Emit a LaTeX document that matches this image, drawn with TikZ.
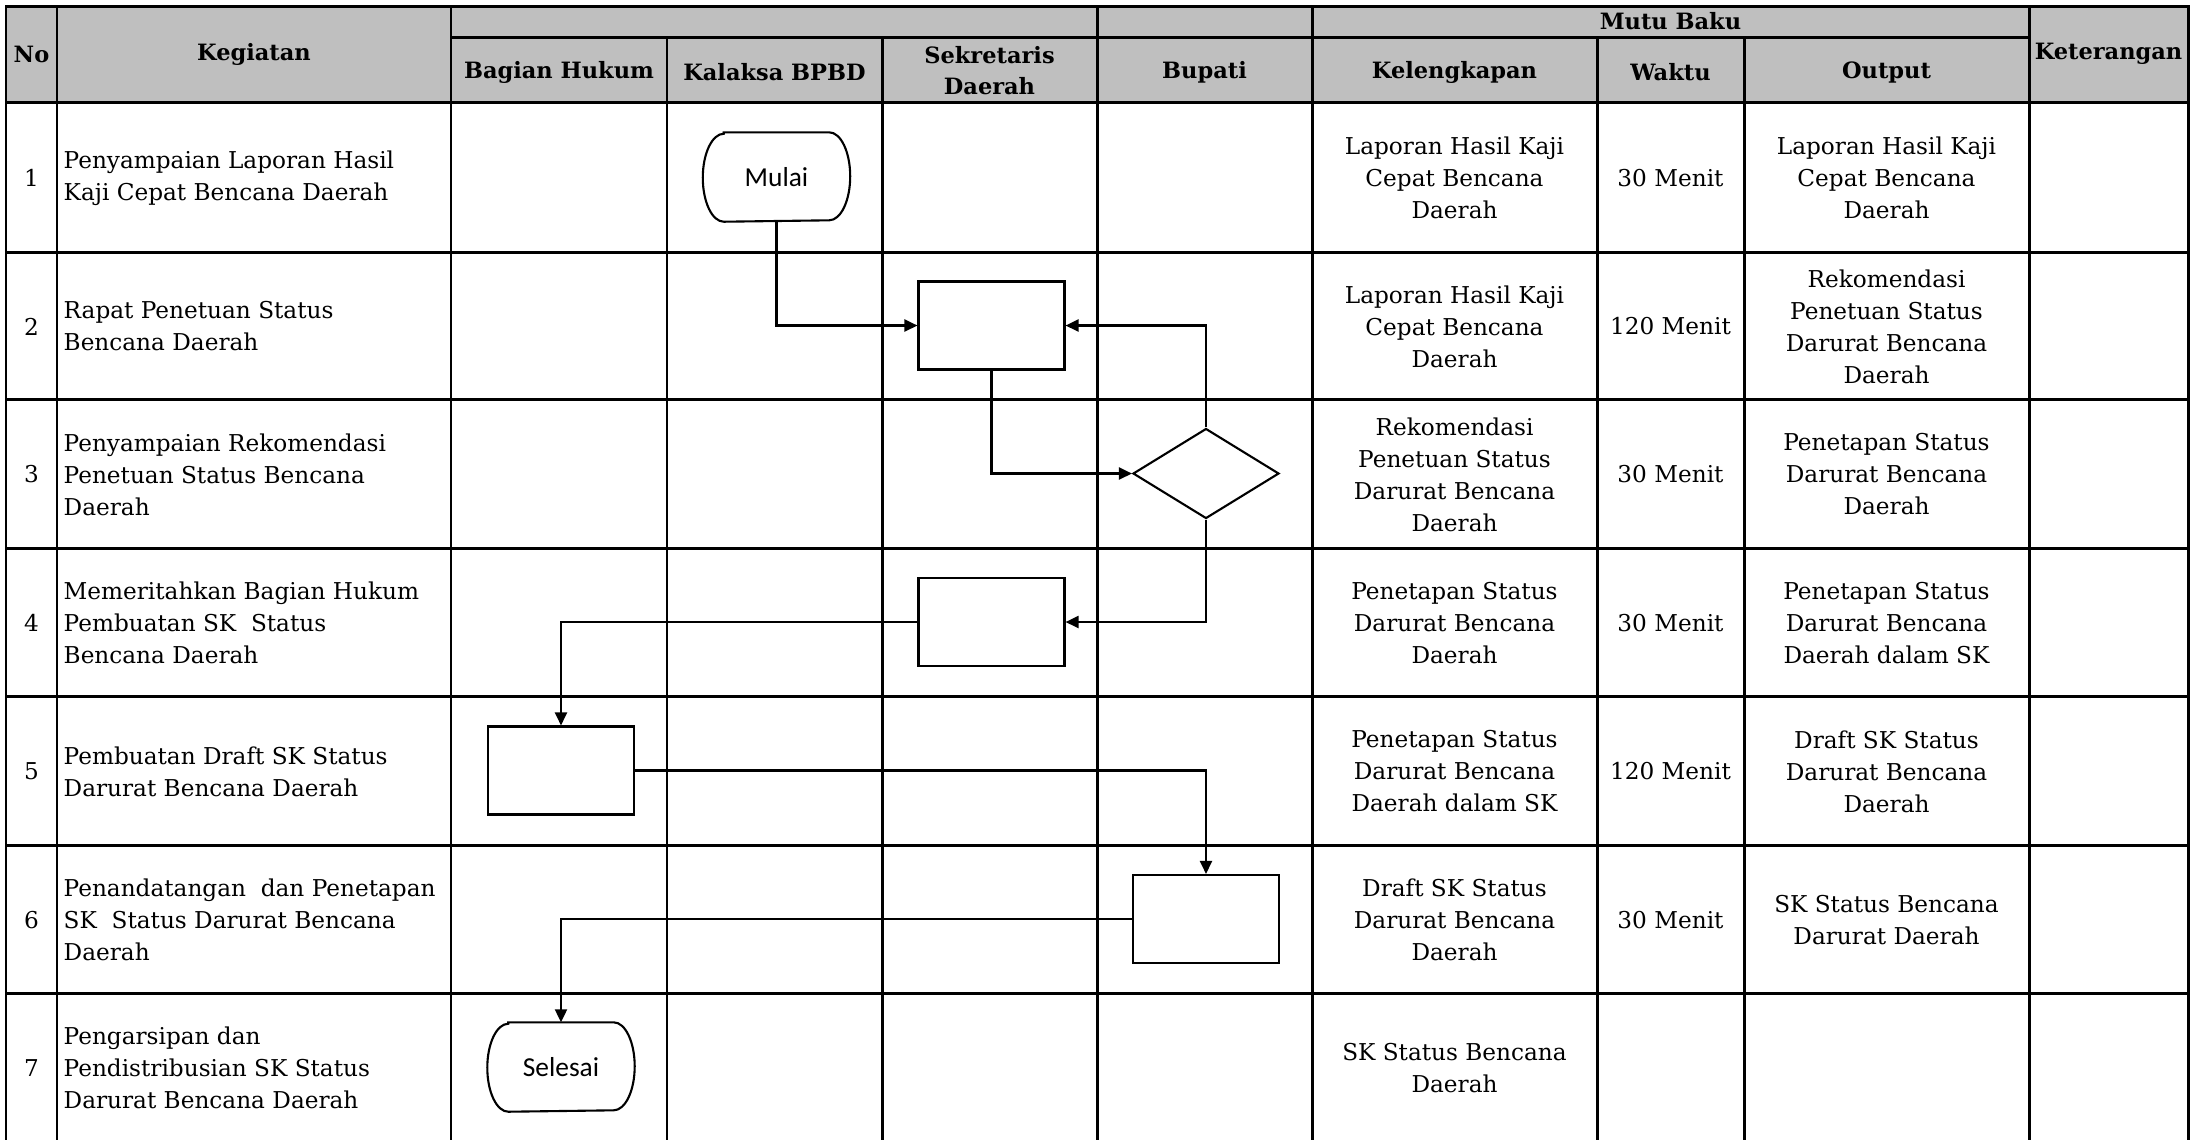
\documentclass[tikz,border=0pt]{standalone}
\usepackage{fontspec}
\setmainfont{DejaVu Serif}
\newfontfamily\flowfont{Carlito}
\usepackage{xcolor}
\definecolor{hdrGray}{RGB}{191, 191, 191}
\usetikzlibrary{positioning,shapes.geometric,arrows.meta}

\begin{document}
\begin{tikzpicture}[
  grid/.style={line width=0.85pt, line cap=rect},
  hdr/.style={font=\fontsize{6.4}{8.8}\selectfont\bfseries, align=center, inner sep=0pt},
  txt/.style={font=\fontsize{6.6}{9.1}\selectfont, align=center, inner sep=0pt},
  kgt/.style={font=\fontsize{6.6}{9.1}\selectfont, align=left, anchor=west, inner sep=0pt},
  proc/.style={draw, line width=0.6pt, rectangle, minimum width=1.46cm, minimum height=0.88cm, inner sep=0pt},
  dec/.style={draw, line width=0.6pt, diamond, minimum width=1.46cm, minimum height=0.9cm, inner sep=0pt},
  term/.style={minimum width=1.46cm, minimum height=0.88cm, inner sep=0pt, font=\flowfont\fontsize{7.8}{9}\selectfont,
    append after command={\pgfextra{\draw[line width=0.6pt]
      ([xshift=0.21cm]\tikzlastnode.north west) -- ([xshift=-0.21cm]\tikzlastnode.north east)
      arc[start angle=90, end angle=-90, x radius=0.21cm, y radius=0.44cm]
      -- ([xshift=0.21cm]\tikzlastnode.south west)
      arc[start angle=270, end angle=90, x radius=0.21cm, y radius=0.44cm] -- cycle;}}},
  arr/.style={-{Triangle[length=0.13cm, width=0.12cm]}, line width=0.6pt}
]
\useasboundingbox (0,0) rectangle (21.96,-11.39);

% header background and table grid
\fill[hdrGray] (0.06,-0.06) rectangle (21.88,-1.02);
\draw[grid] (0.06,-11.6) -- (0.06,-0.06) -- (21.88,-0.06) -- (21.88,-11.6);
\draw[grid] (4.51,-0.37) -- (20.29,-0.37);
\draw[grid] (0.06,-1.02) -- (21.88,-1.02);
\foreach \x in {0.57,4.51,10.97,13.12,20.29}
  \draw[grid] (\x,-0.06) -- (\x,-11.6);
\foreach \x in {6.67,8.82,15.97,17.44}
  \draw[grid] (\x,-0.37) -- (\x,-11.6);
\foreach \y in {2.52,3.99,5.48,6.96,8.45,9.93}
  \draw[grid] (0.06,-\y) -- (21.88,-\y);

% header texts
\node[hdr] (hno)  at (0.315,-0.54)  {No};
\node[hdr] (hkeg) at (2.54,-0.54)   {Kegiatan};
\node[hdr] (hbh)  at (5.59,-0.725)  {Bagian Hukum};
\node[hdr] (hkb)  at (7.745,-0.725) {Kalaksa BPBD};
\node[hdr] (hsd)  at (9.895,-0.71)  {Sekretaris\\Daerah};
\node[hdr] (hbu)  at (12.045,-0.725) {Bupati};
\node[hdr] (hmb)  at (16.705,-0.215) {Mutu Baku};
\node[hdr] (hkl)  at (14.545,-0.725) {Kelengkapan};
\node[hdr] (hwk)  at (16.705,-0.725) {Waktu};
\node[hdr] (hout) at (18.865,-0.725) {Output};
\node[hdr] (hket) at (21.085,-0.54) {Keterangan};

% No
\node[txt] (n1) at (0.315,-1.78)  {1};
\node[txt] (n2) at (0.315,-3.265) {2};
\node[txt] (n3) at (0.315,-4.745) {3};
\node[txt] (n4) at (0.315,-6.23)  {4};
\node[txt] (n5) at (0.315,-7.715) {5};
\node[txt] (n6) at (0.315,-9.2)   {6};
\node[txt] (n7) at (0.315,-10.68) {7};

% Kegiatan
\node[kgt] (k1) at (0.63,-1.78)  {Penyampaian Laporan Hasil\\Kaji Cepat Bencana Daerah};
\node[kgt] (k2) at (0.63,-3.265) {Rapat Penetuan Status\\Bencana Daerah};
\node[kgt] (k3) at (0.63,-4.745) {Penyampaian Rekomendasi\\Penetuan Status Bencana\\Daerah};
\node[kgt] (k4) at (0.63,-6.23)  {Memeritahkan Bagian Hukum\\Pembuatan SK~~Status\\Bencana Daerah};
\node[kgt] (k5) at (0.63,-7.715) {Pembuatan Draft SK Status\\Darurat Bencana Daerah};
\node[kgt] (k6) at (0.63,-9.2)   {Penandatangan~~dan Penetapan\\SK~~Status Darurat Bencana\\Daerah};
\node[kgt] (k7) at (0.63,-10.68) {Pengarsipan dan\\Pendistribusian SK Status\\Darurat Bencana Daerah};

% Kelengkapan
\node[txt] (kl1) at (14.545,-1.78)  {Laporan Hasil Kaji\\Cepat Bencana\\Daerah};
\node[txt] (kl2) at (14.545,-3.265) {Laporan Hasil Kaji\\Cepat Bencana\\Daerah};
\node[txt] (kl3) at (14.545,-4.745) {Rekomendasi\\Penetuan Status\\Darurat Bencana\\Daerah};
\node[txt] (kl4) at (14.545,-6.23)  {Penetapan Status\\Darurat Bencana\\Daerah};
\node[txt] (kl5) at (14.545,-7.715) {Penetapan Status\\Darurat Bencana\\Daerah dalam SK};
\node[txt] (kl6) at (14.545,-9.2)   {Draft SK Status\\Darurat Bencana\\Daerah};
\node[txt] (kl7) at (14.545,-10.68) {SK Status Bencana\\Daerah};

% Waktu
\node[txt] (w1) at (16.705,-1.78)  {30 Menit};
\node[txt] (w2) at (16.705,-3.265) {120 Menit};
\node[txt] (w3) at (16.705,-4.745) {30 Menit};
\node[txt] (w4) at (16.705,-6.23)  {30 Menit};
\node[txt] (w5) at (16.705,-7.715) {120 Menit};
\node[txt] (w6) at (16.705,-9.2)   {30 Menit};

% Output
\node[txt] (o1) at (18.865,-1.78)  {Laporan Hasil Kaji\\Cepat Bencana\\Daerah};
\node[txt] (o2) at (18.865,-3.265) {Rekomendasi\\Penetuan Status\\Darurat Bencana\\Daerah};
\node[txt] (o3) at (18.865,-4.745) {Penetapan Status\\Darurat Bencana\\Daerah};
\node[txt] (o4) at (18.865,-6.23)  {Penetapan Status\\Darurat Bencana\\Daerah dalam SK};
\node[txt] (o5) at (18.865,-7.715) {Draft SK Status\\Darurat Bencana\\Daerah};
\node[txt] (o6) at (18.865,-9.2)   {SK Status Bencana\\Darurat Daerah};

% flowchart
\node[term] (mulai)    at (7.765,-1.77)  {Mulai};
\node[proc] (rapat)    at (9.915,-3.255) {};
\node[dec]  (tetap)    at (12.06,-4.735) {};
\node[proc] (perintah) at (9.915,-6.22)  {};
\node[proc] (draft)    at (5.61,-7.705)  {};
\node[proc] (ttd)      at (12.06,-9.19)  {};
\node[term] (selesai)  at (5.61,-10.67)  {Selesai};

\draw[arr] (mulai.south) |- (rapat.west);
\draw[arr] (rapat.south) |- (tetap.west);
\draw[arr] (tetap.north) |- (rapat.east);
\draw[arr] (tetap.south) |- (perintah.east);
\draw[arr] (perintah.west) -| (draft.north);
\draw[arr] (draft.east) -| (ttd.north);
\draw[arr] (ttd.west) -| (selesai.north);
\end{tikzpicture}
\end{document}
